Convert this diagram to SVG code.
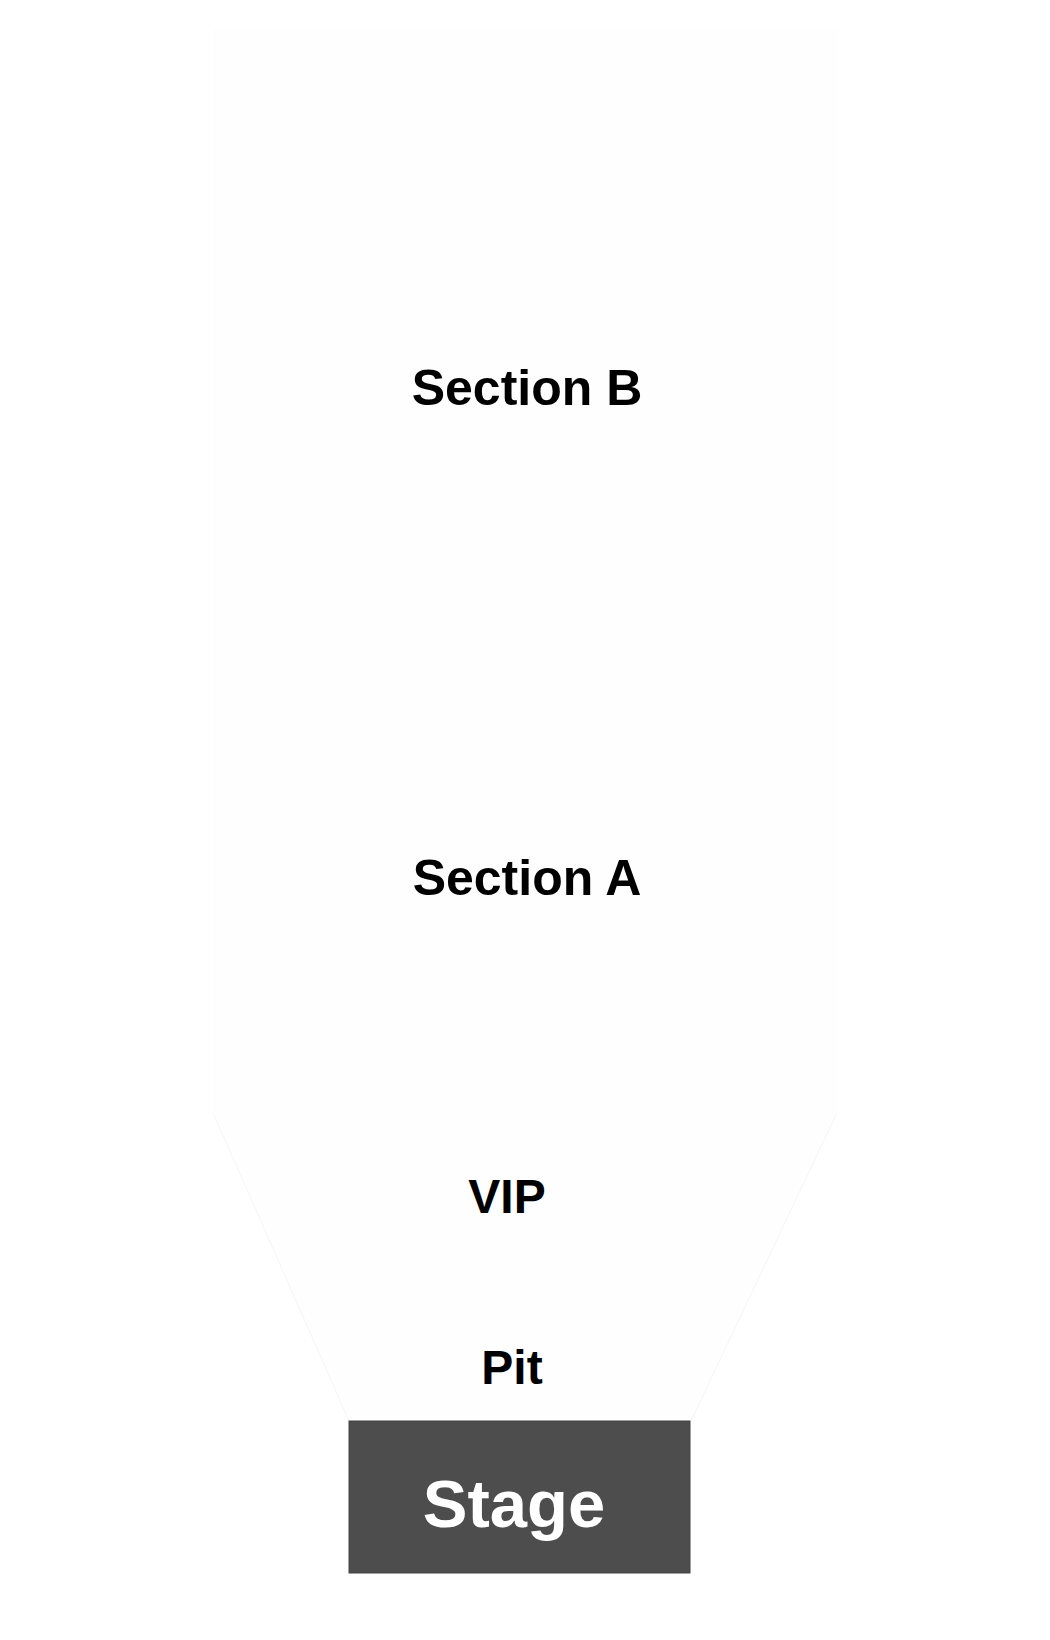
<svg xmlns="http://www.w3.org/2000/svg" width="1050" height="1640" viewBox="0 0 1050 1640">
<style>
.lbl{font-family:"Liberation Sans",Arial,sans-serif;font-weight:bold;fill:#000;text-anchor:middle}
.sec{fill:#fefefe;stroke:none}
</style>
<rect width="1050" height="1640" fill="#ffffff"/>
<g id="section-b">
<rect class="sec" x="214" y="30" width="622" height="540"/>
<text class="lbl" x="527" y="405" font-size="50">Section B</text>
</g>
<g id="section-a">
<rect class="sec" x="214" y="570" width="622" height="545"/>
<text class="lbl" x="527" y="895" font-size="50">Section A</text>
</g>
<path d="M214,1115 V30 H836 V1115" fill="none" stroke="#fcfcfc" stroke-width="1"/>
<g id="vip-pit">
<polygon points="214,1115 836,1115 691,1421 349,1421" fill="#fefefe" stroke="none"/>
<path d="M214,1115 L349,1421 M836,1115 L691,1421" fill="none" stroke="#f5f5f5" stroke-width="1"/>
<text class="lbl" x="507" y="1213" font-size="48">VIP</text>
<text class="lbl" x="512" y="1384" font-size="48">Pit</text>
</g>
<g id="stage">
<rect x="349" y="1421" width="341" height="152" fill="#4d4d4d" stroke="#454545" stroke-width="1"/>
<text x="514" y="1527" font-size="67" font-family="Liberation Sans, Arial, sans-serif" font-weight="bold" fill="#ffffff" text-anchor="middle">Stage</text>
</g>
<g id="connectors"></g>
</svg>
